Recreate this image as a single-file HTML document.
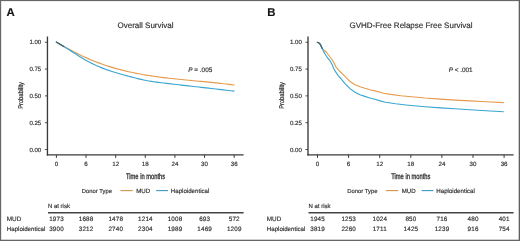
<!DOCTYPE html>
<html><head><meta charset="utf-8"><style>
html,body{margin:0;padding:0;background:#fff;}
svg{display:block;will-change:transform;}
text{font-family:"Liberation Sans", sans-serif;text-rendering:geometricPrecision;stroke:#303030;stroke-width:0.16px;}
</style></head><body>
<svg width="520" height="241" viewBox="0 0 520 241">
<rect x="0" y="0" width="520" height="241" fill="#fff"/>
<text x="6.4" y="16" font-size="11.4" font-weight="bold" fill="#111">A</text>
<text x="145.5" y="27.9" font-size="8" text-anchor="middle" fill="#303030">Overall Survival</text>
<line x1="47.45" y1="36.5" x2="47.45" y2="155.5" stroke="#3a3a3a" stroke-width="1.35"/>
<line x1="46.78" y1="154.85" x2="243.6" y2="154.85" stroke="#3a3a3a" stroke-width="1.4"/>
<line x1="44.95" y1="42.25" x2="47.45" y2="42.25" stroke="#3a3a3a" stroke-width="0.9"/>
<text x="41.25" y="44.45" font-size="6.1" text-anchor="end" fill="#303030">1.00</text>
<line x1="44.95" y1="69.06" x2="47.45" y2="69.06" stroke="#3a3a3a" stroke-width="0.9"/>
<text x="41.25" y="71.26" font-size="6.1" text-anchor="end" fill="#303030">0.75</text>
<line x1="44.95" y1="95.88" x2="47.45" y2="95.88" stroke="#3a3a3a" stroke-width="0.9"/>
<text x="41.25" y="98.08" font-size="6.1" text-anchor="end" fill="#303030">0.50</text>
<line x1="44.95" y1="122.69" x2="47.45" y2="122.69" stroke="#3a3a3a" stroke-width="0.9"/>
<text x="41.25" y="124.89" font-size="6.1" text-anchor="end" fill="#303030">0.25</text>
<line x1="44.95" y1="149.5" x2="47.45" y2="149.5" stroke="#3a3a3a" stroke-width="0.9"/>
<text x="41.25" y="151.7" font-size="6.1" text-anchor="end" fill="#303030">0.00</text>
<line x1="56.4" y1="154.8" x2="56.4" y2="157.9" stroke="#3a3a3a" stroke-width="1"/>
<text x="56.4" y="166.2" font-size="6.2" text-anchor="middle" fill="#303030">0</text>
<line x1="86.03" y1="154.8" x2="86.03" y2="157.9" stroke="#3a3a3a" stroke-width="1"/>
<text x="86.03" y="166.2" font-size="6.2" text-anchor="middle" fill="#303030">6</text>
<line x1="115.66" y1="154.8" x2="115.66" y2="157.9" stroke="#3a3a3a" stroke-width="1"/>
<text x="115.66" y="166.2" font-size="6.2" text-anchor="middle" fill="#303030">12</text>
<line x1="145.29" y1="154.8" x2="145.29" y2="157.9" stroke="#3a3a3a" stroke-width="1"/>
<text x="145.29" y="166.2" font-size="6.2" text-anchor="middle" fill="#303030">18</text>
<line x1="174.92" y1="154.8" x2="174.92" y2="157.9" stroke="#3a3a3a" stroke-width="1"/>
<text x="174.92" y="166.2" font-size="6.2" text-anchor="middle" fill="#303030">24</text>
<line x1="204.55" y1="154.8" x2="204.55" y2="157.9" stroke="#3a3a3a" stroke-width="1"/>
<text x="204.55" y="166.2" font-size="6.2" text-anchor="middle" fill="#303030">30</text>
<line x1="234.18" y1="154.8" x2="234.18" y2="157.9" stroke="#3a3a3a" stroke-width="1"/>
<text x="234.18" y="166.2" font-size="6.2" text-anchor="middle" fill="#303030">36</text>
<text transform="translate(145.53,178.5) scale(0.72,1)" x="0" y="0" font-size="8" text-anchor="middle" fill="#222" style="stroke-width:0.3px">Time in months</text>
<text transform="translate(23.4,95.5) rotate(-90) scale(0.84,1)" x="0" y="0" font-size="6.8" text-anchor="middle" fill="#222" style="stroke-width:0.22px">Probability</text>
<text x="81.8" y="193" font-size="5.85" fill="#303030">Donor Type</text>
<line x1="120.5" y1="190.6" x2="132.7" y2="190.6" stroke="#D4924A" stroke-width="1.1"/>
<text x="136.2" y="192.9" font-size="6.15" fill="#303030">MUD</text>
<line x1="156.2" y1="190.6" x2="168" y2="190.6" stroke="#4098C2" stroke-width="1.1"/>
<text x="170.8" y="192.9" font-size="6.15" fill="#303030">Haploidentical</text>
<text x="47.95" y="208" font-size="6" fill="#303030">N at risk</text>
<line x1="47.95" y1="212.7" x2="243.6" y2="212.7" stroke="#444" stroke-width="1.4"/>
<text x="6.8" y="221" font-size="6.35" fill="#303030">MUD</text>
<text x="6.8" y="230.8" font-size="6.15" fill="#303030">Haploidentical</text>
<text x="56.5" y="221" font-size="6.3" letter-spacing="0.15" text-anchor="middle" fill="#303030">1973</text>
<text x="56.5" y="230.8" font-size="6.3" letter-spacing="0.15" text-anchor="middle" fill="#303030">3900</text>
<text x="86.13" y="221" font-size="6.3" letter-spacing="0.15" text-anchor="middle" fill="#303030">1688</text>
<text x="86.13" y="230.8" font-size="6.3" letter-spacing="0.15" text-anchor="middle" fill="#303030">3212</text>
<text x="115.76" y="221" font-size="6.3" letter-spacing="0.15" text-anchor="middle" fill="#303030">1478</text>
<text x="115.76" y="230.8" font-size="6.3" letter-spacing="0.15" text-anchor="middle" fill="#303030">2740</text>
<text x="145.39" y="221" font-size="6.3" letter-spacing="0.15" text-anchor="middle" fill="#303030">1214</text>
<text x="145.39" y="230.8" font-size="6.3" letter-spacing="0.15" text-anchor="middle" fill="#303030">2304</text>
<text x="175.02" y="221" font-size="6.3" letter-spacing="0.15" text-anchor="middle" fill="#303030">1008</text>
<text x="175.02" y="230.8" font-size="6.3" letter-spacing="0.15" text-anchor="middle" fill="#303030">1989</text>
<text x="204.65" y="221" font-size="6.3" letter-spacing="0.15" text-anchor="middle" fill="#303030">693</text>
<text x="204.65" y="230.8" font-size="6.3" letter-spacing="0.15" text-anchor="middle" fill="#303030">1469</text>
<text x="234.28" y="221" font-size="6.3" letter-spacing="0.15" text-anchor="middle" fill="#303030">572</text>
<text x="234.28" y="230.8" font-size="6.3" letter-spacing="0.15" text-anchor="middle" fill="#303030">1209</text>
<text x="188.3" y="71.9" font-size="6.4" fill="#303030"><tspan font-style="italic">P</tspan> = .005</text>
<path d="M56.2,42 L58.7,43.42 L61.2,44.84 L63.7,46.24 L66.2,47.64 L68.7,49.02 L71.2,50.37 L73.7,51.7 L76.2,53 L78.7,54.26 L81.2,55.48 L83.7,56.65 L86.2,57.79 L88.7,58.89 L91.2,59.95 L93.7,60.97 L96.2,61.95 L98.7,62.9 L101.2,63.81 L103.7,64.68 L106.2,65.53 L108.7,66.34 L111.2,67.11 L113.7,67.86 L116.2,68.58 L118.7,69.26 L121.2,69.92 L123.7,70.55 L126.2,71.15 L128.7,71.73 L131.2,72.28 L133.7,72.81 L136.2,73.32 L138.7,73.8 L141.2,74.26 L143.7,74.71 L146.2,75.13 L148.7,75.53 L151.2,75.92 L153.7,76.29 L156.2,76.65 L158.7,76.99 L161.2,77.31 L163.7,77.63 L166.2,77.93 L168.7,78.22 L171.2,78.5 L173.7,78.77 L176.2,79.04 L178.7,79.29 L181.2,79.54 L183.7,79.79 L186.2,80.03 L188.7,80.27 L191.2,80.5 L193.7,80.73 L196.2,80.97 L198.7,81.2 L201.2,81.43 L203.7,81.67 L206.2,81.91 L208.7,82.15 L211.2,82.4 L213.7,82.65 L216.2,82.91 L218.7,83.18 L221.2,83.45 L223.7,83.74 L226.2,84.03 L228.7,84.34 L231.2,84.66 L233.7,85 L234.5,85.11" fill="none" stroke="#E69A4E" stroke-width="1.15" stroke-linejoin="round"/>
<path d="M56.2,42 L58.7,43.47 L61.2,44.97 L63.7,46.5 L66.2,48.05 L68.7,49.61 L71.2,51.19 L73.7,52.77 L76.2,54.35 L78.7,55.92 L81.2,57.47 L83.7,58.98 L86.2,60.43 L88.7,61.81 L91.2,63.11 L93.7,64.34 L96.2,65.5 L98.7,66.59 L101.2,67.62 L103.7,68.6 L106.2,69.53 L108.7,70.4 L111.2,71.24 L113.7,72.04 L116.2,72.8 L118.7,73.53 L121.2,74.24 L123.7,74.93 L126.2,75.6 L128.7,76.26 L131.2,76.91 L133.7,77.55 L136.2,78.2 L138.7,78.82 L141.2,79.42 L143.7,79.98 L146.2,80.49 L148.7,80.95 L151.2,81.37 L153.7,81.75 L156.2,82.1 L158.7,82.43 L161.2,82.75 L163.7,83.05 L166.2,83.34 L168.7,83.63 L171.2,83.92 L173.7,84.21 L176.2,84.5 L178.7,84.79 L181.2,85.07 L183.7,85.36 L186.2,85.64 L188.7,85.92 L191.2,86.2 L193.7,86.49 L196.2,86.77 L198.7,87.05 L201.2,87.33 L203.7,87.62 L206.2,87.9 L208.7,88.18 L211.2,88.47 L213.7,88.75 L216.2,89.04 L218.7,89.33 L221.2,89.62 L223.7,89.91 L226.2,90.21 L228.7,90.5 L231.2,90.8 L233.7,91.1 L234.5,91.2" fill="none" stroke="#3AA6D0" stroke-width="1.15" stroke-linejoin="round"/>
<path d="M56.2,42 L58.7,43.47 L61.2,44.97 L63.7,46.5" fill="none" stroke="#3E6270" stroke-width="1.25" stroke-linejoin="round" stroke-linecap="round"/>
<text x="267.3" y="16" font-size="11.4" font-weight="bold" fill="#111">B</text>
<text x="411" y="27.9" font-size="8" text-anchor="middle" fill="#303030">GVHD-Free Relapse Free Survival</text>
<line x1="308" y1="36.5" x2="308" y2="155.5" stroke="#3a3a3a" stroke-width="1.35"/>
<line x1="307.33" y1="154.85" x2="513.6" y2="154.85" stroke="#3a3a3a" stroke-width="1.4"/>
<line x1="305.5" y1="42.25" x2="308" y2="42.25" stroke="#3a3a3a" stroke-width="0.9"/>
<text x="301.8" y="44.45" font-size="6.1" text-anchor="end" fill="#303030">1.00</text>
<line x1="305.5" y1="69.06" x2="308" y2="69.06" stroke="#3a3a3a" stroke-width="0.9"/>
<text x="301.8" y="71.26" font-size="6.1" text-anchor="end" fill="#303030">0.75</text>
<line x1="305.5" y1="95.88" x2="308" y2="95.88" stroke="#3a3a3a" stroke-width="0.9"/>
<text x="301.8" y="98.08" font-size="6.1" text-anchor="end" fill="#303030">0.50</text>
<line x1="305.5" y1="122.69" x2="308" y2="122.69" stroke="#3a3a3a" stroke-width="0.9"/>
<text x="301.8" y="124.89" font-size="6.1" text-anchor="end" fill="#303030">0.25</text>
<line x1="305.5" y1="149.5" x2="308" y2="149.5" stroke="#3a3a3a" stroke-width="0.9"/>
<text x="301.8" y="151.7" font-size="6.1" text-anchor="end" fill="#303030">0.00</text>
<line x1="317.5" y1="154.8" x2="317.5" y2="157.9" stroke="#3a3a3a" stroke-width="1"/>
<text x="317.5" y="166.2" font-size="6.2" text-anchor="middle" fill="#303030">0</text>
<line x1="348.6" y1="154.8" x2="348.6" y2="157.9" stroke="#3a3a3a" stroke-width="1"/>
<text x="348.6" y="166.2" font-size="6.2" text-anchor="middle" fill="#303030">6</text>
<line x1="379.7" y1="154.8" x2="379.7" y2="157.9" stroke="#3a3a3a" stroke-width="1"/>
<text x="379.7" y="166.2" font-size="6.2" text-anchor="middle" fill="#303030">12</text>
<line x1="410.8" y1="154.8" x2="410.8" y2="157.9" stroke="#3a3a3a" stroke-width="1"/>
<text x="410.8" y="166.2" font-size="6.2" text-anchor="middle" fill="#303030">18</text>
<line x1="441.9" y1="154.8" x2="441.9" y2="157.9" stroke="#3a3a3a" stroke-width="1"/>
<text x="441.9" y="166.2" font-size="6.2" text-anchor="middle" fill="#303030">24</text>
<line x1="473" y1="154.8" x2="473" y2="157.9" stroke="#3a3a3a" stroke-width="1"/>
<text x="473" y="166.2" font-size="6.2" text-anchor="middle" fill="#303030">30</text>
<line x1="504.1" y1="154.8" x2="504.1" y2="157.9" stroke="#3a3a3a" stroke-width="1"/>
<text x="504.1" y="166.2" font-size="6.2" text-anchor="middle" fill="#303030">36</text>
<text transform="translate(410.8,178.5) scale(0.72,1)" x="0" y="0" font-size="8" text-anchor="middle" fill="#222" style="stroke-width:0.3px">Time in months</text>
<text transform="translate(284,95.5) rotate(-90) scale(0.84,1)" x="0" y="0" font-size="6.8" text-anchor="middle" fill="#222" style="stroke-width:0.22px">Probability</text>
<text x="347.3" y="193" font-size="5.85" fill="#303030">Donor Type</text>
<line x1="386" y1="190.6" x2="398.2" y2="190.6" stroke="#D4924A" stroke-width="1.1"/>
<text x="401.7" y="192.9" font-size="6.15" fill="#303030">MUD</text>
<line x1="421.7" y1="190.6" x2="433.5" y2="190.6" stroke="#4098C2" stroke-width="1.1"/>
<text x="436.3" y="192.9" font-size="6.15" fill="#303030">Haploidentical</text>
<text x="308.5" y="208" font-size="6" fill="#303030">N at risk</text>
<line x1="308.5" y1="212.7" x2="513.6" y2="212.7" stroke="#444" stroke-width="1.4"/>
<text x="266.8" y="221" font-size="6.35" fill="#303030">MUD</text>
<text x="266.8" y="230.8" font-size="6.15" fill="#303030">Haploidentical</text>
<text x="317.6" y="221" font-size="6.3" letter-spacing="0.15" text-anchor="middle" fill="#303030">1945</text>
<text x="317.6" y="230.8" font-size="6.3" letter-spacing="0.15" text-anchor="middle" fill="#303030">3819</text>
<text x="348.7" y="221" font-size="6.3" letter-spacing="0.15" text-anchor="middle" fill="#303030">1253</text>
<text x="348.7" y="230.8" font-size="6.3" letter-spacing="0.15" text-anchor="middle" fill="#303030">2260</text>
<text x="379.8" y="221" font-size="6.3" letter-spacing="0.15" text-anchor="middle" fill="#303030">1024</text>
<text x="379.8" y="230.8" font-size="6.3" letter-spacing="0.15" text-anchor="middle" fill="#303030">1711</text>
<text x="410.9" y="221" font-size="6.3" letter-spacing="0.15" text-anchor="middle" fill="#303030">850</text>
<text x="410.9" y="230.8" font-size="6.3" letter-spacing="0.15" text-anchor="middle" fill="#303030">1425</text>
<text x="442" y="221" font-size="6.3" letter-spacing="0.15" text-anchor="middle" fill="#303030">716</text>
<text x="442" y="230.8" font-size="6.3" letter-spacing="0.15" text-anchor="middle" fill="#303030">1239</text>
<text x="473.1" y="221" font-size="6.3" letter-spacing="0.15" text-anchor="middle" fill="#303030">480</text>
<text x="473.1" y="230.8" font-size="6.3" letter-spacing="0.15" text-anchor="middle" fill="#303030">916</text>
<text x="504.2" y="221" font-size="6.3" letter-spacing="0.15" text-anchor="middle" fill="#303030">401</text>
<text x="504.2" y="230.8" font-size="6.3" letter-spacing="0.15" text-anchor="middle" fill="#303030">754</text>
<text x="448.7" y="71.9" font-size="6.4" fill="#303030"><tspan font-style="italic">P</tspan> &lt; .001</text>
<path d="M317.3,42.3 L318.5,42.7 L319.5,43.4 L320.5,44.8 L321.4,46.7 L322.2,48.5 L323,49.6 L324.5,50.5 L326.5,52.5 L328.5,55 L330,57 L332,59.5 L333.5,62 L334.5,64 L336,67 L338,69.4 L340.5,72 L343,74.4 L345,76.4 L350,81.6 L355,84.8 L360,86.8 L364.9,88.3 L369.9,89.7 L374.9,90.9 L380.2,92.3 L383.3,93.3 L390.6,94.4 L400.9,95.7 L411.3,96.7 L420,97.5 L424.8,98 L440.7,99.1 L455,100.1 L469.8,100.9 L486,101.8 L503.8,102.6" fill="none" stroke="#E69A4E" stroke-width="1.15" stroke-linejoin="round"/>
<path d="M317.3,42.3 L318.5,42.7 L319.5,43.4 L320.5,44.8 L321.4,46.7 L322.2,48.5 L322.8,49.6 L323.5,51.5 L325,54 L327,57 L328,58.5 L329.5,60 L331,62.5 L332.5,65.5 L333.5,68 L334.5,70 L336,72.4 L338,75.4 L340,77.6 L345,83.6 L350,88.6 L355,92.3 L360,94.7 L364.9,96.4 L369.9,98 L374.9,99.3 L380.2,100.9 L385.4,102.2 L395.7,103.8 L406.1,105 L416.5,106 L424.8,106.7 L440.7,107.9 L455,108.8 L469.8,109.8 L486,110.8 L503.8,111.7" fill="none" stroke="#3AA6D0" stroke-width="1.15" stroke-linejoin="round"/>
<path d="M317.3,42.3 L318.5,42.7 L319.5,43.4 L320.5,44.8 L321.4,46.7 L322.2,48.5" fill="none" stroke="#3E6270" stroke-width="1.25" stroke-linejoin="round" stroke-linecap="round"/>
<rect x="0" y="0" width="520" height="1.1" fill="#676767"/>
<rect x="0" y="0" width="1.15" height="241" fill="#676767"/>
<rect x="518.7" y="0" width="1.3" height="241" fill="#5e5e5e"/>
<rect x="0" y="239.7" width="520" height="1.3" fill="#676767"/>
</svg>
</body></html>
